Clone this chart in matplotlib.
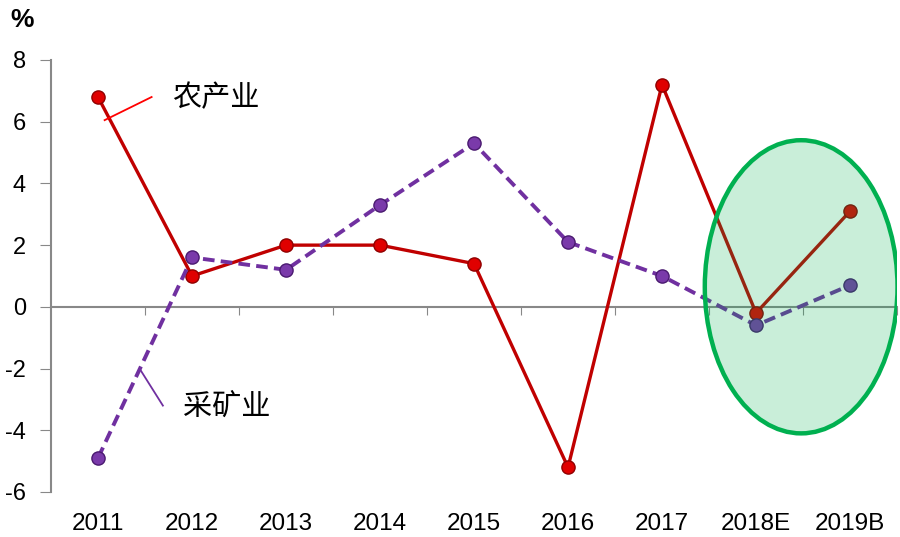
import matplotlib
matplotlib.use("Agg")
import matplotlib.pyplot as plt
from matplotlib.patches import Ellipse

plt.rcParams['font.family'] = ['Liberation Sans', 'Noto Sans CJK SC', 'DejaVu Sans']
plt.rcParams['axes.unicode_minus'] = False

# 数据
years = ["2011", "2012", "2013", "2014", "2015", "2016", "2017", "2018E", "2019B"]
agri = [6.8, 1.0, 2.0, 2.0, 1.4, -5.2, 7.2, -0.2, 3.1]
mining = [-4.9, 1.6, 1.2, 3.3, 5.3, 2.1, 1.0, -0.6, 0.7]
yticks = [-6, -4, -2, 0, 2, 4, 6, 8]

fig = plt.figure(figsize=(9, 5.37), dpi=100)
ax = fig.add_axes([0.0567, 0.0838, 0.94, 0.8045])

x = list(range(len(years)))

ax.plot(x, agri, color="#c00000", lw=2.4, zorder=3,
        marker="o", ms=9.5, mfc="#e00000", mec="#900000", mew=1)
ax.plot(x, mining, color="#7030a0", lw=2.8, ls=(0, (3, 1.6)), zorder=3,
        marker="o", ms=9.5, mfc="#7a3aaa", mec="#4a1a70", mew=1)

ax.set_xlim(-0.5, len(years) - 0.5)
ax.set_ylim(-6, 8)
ax.set_yticks(yticks)
ax.tick_params(axis="y", direction="out", length=8, color="#888888",
               labelsize=17, pad=10)

# 横轴放在 0 处，刻度在类别之间
for s in ["top", "right"]:
    ax.spines[s].set_visible(False)
ax.spines["left"].set_color("#888888")
ax.spines["left"].set_linewidth(1.5)
ax.spines["bottom"].set_position(("data", 0))
ax.spines["bottom"].set_color("#888888")
ax.spines["bottom"].set_linewidth(1.5)
ax.set_xticks([i + 0.5 for i in x])
ax.tick_params(axis="x", direction="out", length=6, color="#888888",
               labelbottom=False)
for i, lab in zip(x, years):
    ax.text(i, -0.073, lab, transform=ax.get_xaxis_transform(),
            ha="center", va="center", fontsize=17.5)

# 预测区椭圆
ax.add_patch(Ellipse((7.48, 0.65), 2.05, 9.5, facecolor="#00b050", alpha=0.21,
                     edgecolor="none", zorder=4))
ax.add_patch(Ellipse((7.48, 0.65), 2.05, 9.5, facecolor="none",
                     edgecolor="#00b050", lw=3.2, zorder=5))

# 标注
ax.plot([0.07, 0.57], [6.05, 6.8], color="red", lw=1.3, zorder=3)
ax.text(0.79, 6.75, "农产业", fontsize=21, ha="left", va="center",
        family=["Noto Sans CJK SC"], fontweight="light")
ax.plot([0.45, 0.69], [-2.04, -3.2], color="#7030a0", lw=1.3, zorder=3)
ax.text(0.9, -3.24, "采矿业", fontsize=21, ha="left", va="center",
        family=["Noto Sans CJK SC"], fontweight="light")

fig.text(0.012, 0.962, "%", fontsize=19, fontweight="bold", ha="left", va="center")

fig.savefig("out.png", dpi=100)
